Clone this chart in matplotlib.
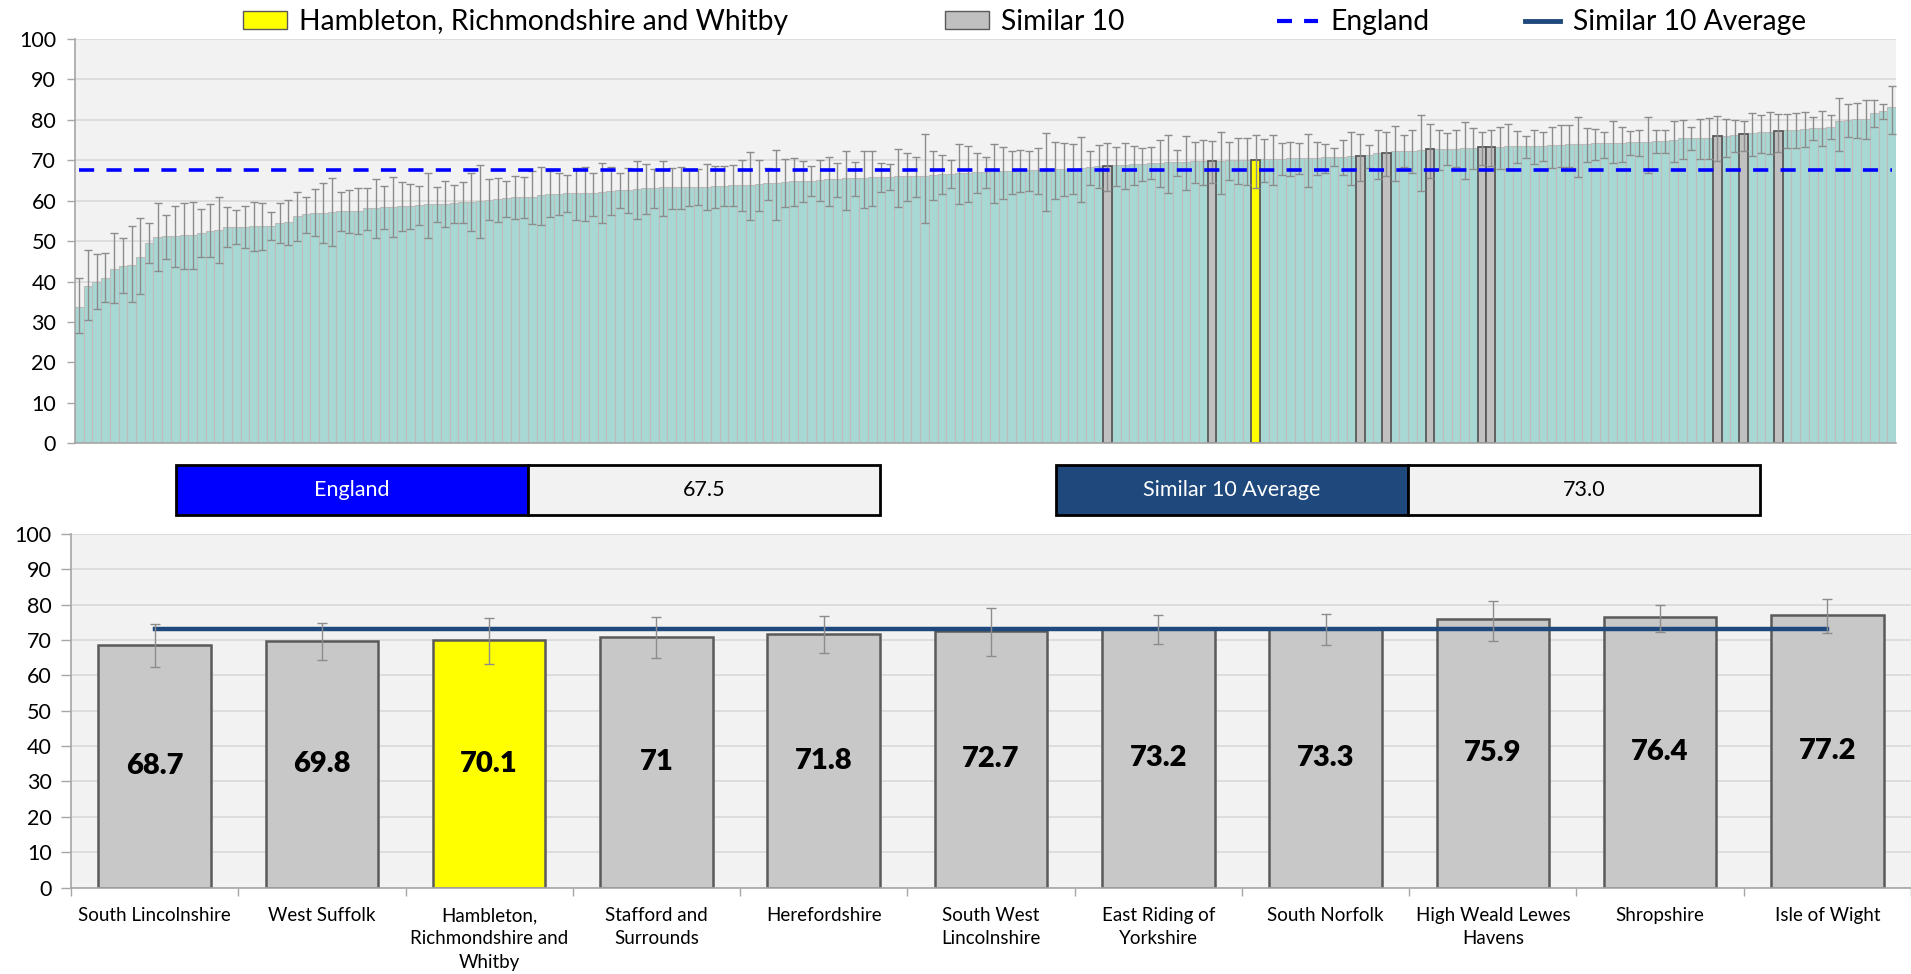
# coding=utf-8
import matplotlib
matplotlib.use("Agg")
import matplotlib.pyplot as plt
from matplotlib.patches import Patch, Rectangle
from matplotlib.lines import Line2D

plt.rcParams["font.family"] = ["Lato", "DejaVu Sans"]

# All CCGs in England, sorted ascending (value, lower CI, upper CI)
ccg_values = [
    33.8, 39.0, 39.9, 40.8, 43.2, 43.8, 44.2, 46.1, 49.6, 51.1,
    51.2, 51.2, 51.4, 51.4, 51.9, 52.6, 52.7, 53.5, 53.6, 53.6,
    53.7, 53.8, 53.8, 54.6, 54.7, 56.1, 56.6, 57.0, 57.0, 57.3,
    57.4, 57.4, 57.5, 58.1, 58.3, 58.4, 58.5, 58.7, 58.8, 58.9,
    59.1, 59.2, 59.3, 59.4, 59.7, 59.8, 60.0, 60.3, 60.5, 60.6,
    60.8, 60.9, 61.0, 61.5, 61.7, 61.7, 61.8, 61.8, 61.9, 62.0,
    62.1, 62.5, 62.6, 62.7, 62.9, 63.1, 63.2, 63.3, 63.3, 63.4,
    63.4, 63.4, 63.5, 63.6, 63.7, 63.8, 63.9, 64.0, 64.1, 64.3,
    64.5, 64.6, 64.8, 65.0, 65.0, 65.1, 65.3, 65.4, 65.5, 65.5,
    65.6, 65.8, 65.8, 65.9, 66.0, 66.0, 66.0, 66.1, 66.4, 66.5,
    66.6, 66.9, 66.9, 67.1, 67.2, 67.4, 67.4, 67.4, 67.5, 67.6,
    67.7, 67.8, 67.8, 67.9, 67.9, 68.1, 68.3, 68.5, 68.7, 68.8,
    68.9, 69.0, 69.2, 69.3, 69.4, 69.5, 69.6, 69.7, 69.8, 69.8,
    69.8, 69.9, 70.0, 70.1, 70.1, 70.1, 70.2, 70.3, 70.4, 70.5,
    70.5, 70.5, 70.6, 70.7, 70.8, 70.9, 71.0, 71.0, 71.2, 71.7,
    71.8, 72.2, 72.3, 72.4, 72.6, 72.7, 72.8, 72.9, 72.9, 73.0,
    73.1, 73.2, 73.3, 73.4, 73.5, 73.5, 73.6, 73.6, 73.6, 73.7,
    73.9, 74.0, 74.0, 74.1, 74.2, 74.2, 74.3, 74.4, 74.5, 74.5,
    74.6, 74.7, 74.8, 75.0, 75.4, 75.5, 75.5, 75.6, 75.9, 76.0,
    76.2, 76.4, 76.7, 76.9, 77.1, 77.2, 77.4, 77.5, 77.8, 77.9,
    78.0, 78.2, 79.6, 80.0, 80.1, 80.3, 81.7, 82.1, 83.1,
]
ccg_lower = [
    27.4, 30.6, 33.1, 34.9, 34.7, 37.1, 34.9, 36.9, 44.7, 42.6,
    45.7, 43.6, 43.2, 43.1, 46.1, 46.1, 44.6, 48.5, 49.4, 48.4,
    47.5, 47.8, 50.2, 49.6, 49.0, 50.0, 52.1, 51.3, 49.5, 48.8,
    52.6, 52.1, 51.8, 52.8, 50.7, 52.9, 51.0, 52.5, 53.1, 54.1,
    50.8, 54.7, 53.6, 54.5, 54.5, 52.6, 50.7, 55.2, 54.8, 56.0,
    55.4, 55.7, 54.2, 54.1, 55.9, 56.4, 57.3, 55.3, 55.1, 56.3,
    54.5, 56.4, 58.1, 56.9, 55.5, 56.8, 58.2, 56.2, 57.9, 57.9,
    58.7, 59.0, 57.7, 58.2, 58.7, 58.6, 57.4, 55.3, 57.5, 60.3,
    55.3, 58.4, 58.6, 59.8, 61.2, 59.9, 58.8, 61.0, 57.6, 61.2,
    58.3, 58.7, 62.2, 62.6, 58.4, 59.9, 61.0, 54.4, 60.2, 61.6,
    63.1, 59.1, 59.8, 61.9, 63.2, 59.4, 60.5, 61.7, 62.1, 62.5,
    61.7, 57.5, 60.4, 61.2, 61.6, 59.8, 64.0, 63.2, 62.3, 63.7,
    62.8, 64.0, 65.0, 65.3, 63.4, 61.8, 66.2, 62.6, 64.5, 64.0,
    64.4, 61.7, 65.1, 64.2, 64.0, 63.2, 64.7, 63.8, 66.3, 66.0,
    66.5, 63.5, 66.3, 66.8, 68.5, 66.4, 64.0, 65.0, 68.2, 65.4,
    66.2, 65.0, 68.3, 66.8, 62.3, 65.5, 67.6, 68.8, 68.4, 65.3,
    67.8, 68.8, 68.7, 67.9, 67.9, 69.3, 70.5, 69.0, 69.9, 68.1,
    68.3, 68.3, 65.9, 69.5, 70.1, 70.5, 69.4, 69.6, 71.2, 71.0,
    66.9, 71.8, 71.9, 69.6, 70.2, 72.6, 70.2, 70.2, 69.8, 70.9,
    72.1, 72.4, 71.1, 71.7, 71.6, 72.0, 73.0, 73.1, 73.4, 75.0,
    73.5, 75.2, 72.4, 75.7, 75.5, 75.2, 78.2, 80.1, 76.4,
]
ccg_upper = [
    41.0, 47.9, 46.9, 47.1, 52.0, 50.7, 53.8, 55.8, 54.6, 59.4,
    56.4, 58.8, 59.5, 59.7, 57.9, 59.2, 60.8, 58.4, 57.6, 58.6,
    59.8, 59.5, 57.1, 59.5, 60.2, 62.2, 60.9, 62.8, 64.3, 65.7,
    62.1, 62.7, 63.1, 63.1, 65.4, 63.6, 65.9, 64.7, 64.1, 63.6,
    66.9, 63.4, 64.9, 64.0, 64.6, 66.8, 68.9, 65.3, 65.7, 65.0,
    66.0, 65.9, 67.3, 68.4, 67.4, 66.9, 66.3, 68.2, 68.4, 66.9,
    69.3, 68.3, 66.9, 68.2, 69.8, 69.0, 67.9, 69.8, 68.1, 68.3,
    67.8, 67.9, 69.1, 68.6, 68.6, 68.8, 70.0, 72.0, 70.1, 68.2,
    72.6, 70.4, 70.6, 69.8, 68.7, 70.1, 70.9, 69.3, 72.2, 69.5,
    72.2, 72.4, 69.3, 69.0, 72.7, 71.7, 70.7, 76.4, 72.2, 71.2,
    70.0, 74.0, 73.6, 71.9, 70.8, 74.0, 73.2, 72.3, 72.6, 72.3,
    73.0, 76.7, 74.6, 74.2, 74.0, 75.7, 72.4, 73.7, 74.4, 73.4,
    74.4, 73.6, 73.0, 73.3, 74.9, 76.2, 72.6, 75.9, 74.5, 75.0,
    74.7, 77.1, 74.6, 75.4, 75.6, 76.3, 75.2, 76.2, 74.2, 74.5,
    74.2, 76.6, 74.6, 74.0, 73.1, 75.0, 77.1, 76.5, 73.8, 77.4,
    76.9, 78.6, 76.3, 77.4, 81.2, 79.0, 77.6, 76.7, 77.4, 79.5,
    77.9, 77.0, 77.4, 78.2, 78.9, 77.2, 76.1, 77.6, 76.9, 78.3,
    78.8, 78.7, 80.6, 78.0, 77.7, 77.1, 79.8, 78.3, 77.3, 77.6,
    80.8, 77.4, 77.4, 79.6, 79.9, 78.3, 80.3, 80.4, 81.0, 80.3,
    79.9, 79.8, 81.6, 81.3, 81.9, 81.5, 81.5, 81.7, 81.9, 80.8,
    82.3, 81.1, 85.4, 83.9, 84.2, 84.8, 84.8, 84.0, 88.4,
]

# position of the local CCG and its 10 similar CCGs in the sorted list
local_index = 135
similar_index = [118, 130, 147, 150, 155, 161, 162, 188, 191, 195]

# Similar 10 comparison (local CCG included)
local_name = "Hambleton, Richmondshire and Whitby"
cmp_labels = [
    "South Lincolnshire", "West Suffolk", "Hambleton,\nRichmondshire and\nWhitby",
    "Stafford and\nSurrounds", "Herefordshire", "South West\nLincolnshire",
    "East Riding of\nYorkshire", "South Norfolk", "High Weald Lewes\nHavens",
    "Shropshire", "Isle of Wight",
]
cmp_values = [68.7, 69.8, 70.1, 71.0, 71.8, 72.7, 73.2, 73.3, 75.9, 76.4, 77.2]
cmp_lower = [62.3, 64.4, 63.2, 65.0, 66.2, 65.5, 68.8, 68.7, 69.8, 72.4, 72.0]
cmp_upper = [74.4, 74.7, 76.3, 76.5, 76.9, 79.0, 77.0, 77.4, 81.0, 79.8, 81.5]
cmp_local = 2

england_value = 67.5
similar_average = 73.0

# colours
TEAL = "#a8d8d3"
GREY = "#c0c0c0"
YELLOW = "#ffff00"
BLUE = "#0000ff"
NAVY = "#1f497d"
PANEL = "#f2f2f2"
GRID = "#d9d9d9"
AXIS = "#a6a6a6"

W, H = 1911, 974
fig = plt.figure(figsize=(W / 100, H / 100), dpi=100)


def fx(px):
    return px / W


def fy(py):
    return 1 - py / H


def style_axis(ax, ticklen, pad):
    """ Excel-like look: grey panel, light grid, grey axis lines """
    ax.set_facecolor(PANEL)
    ax.set_ylim(0, 100)
    ax.set_yticks(range(0, 101, 10))
    ax.yaxis.grid(True, color=GRID, lw=1.2)
    ax.set_axisbelow(True)
    for s in ["top", "right"]:
        ax.spines[s].set_visible(False)
    for s in ["left", "bottom"]:
        ax.spines[s].set_color(AXIS)
        ax.spines[s].set_linewidth(1.2)
    ax.tick_params(axis="y", length=ticklen, width=1, color=AXIS,
                   labelsize=15.5, pad=pad, labelcolor="black")


# ---------------- top chart: all CCGs ----------------
ax1 = fig.add_axes([fx(75), fy(443.3), fx(1896 - 75), (443.3 - 39) / H])
style_axis(ax1, 5.5, 8)
n = len(ccg_values)
xs = list(range(n))
ax1.bar(xs, ccg_values, width=1.0, color=TEAL, edgecolor="#bcbcbc",
        linewidth=0.8, zorder=2)

hl_x = similar_index + [local_index]
hl_v = [ccg_values[i] for i in hl_x]
hl_c = [GREY] * len(similar_index) + [YELLOW]
ax1.bar(hl_x, hl_v, width=1.0, color=hl_c, edgecolor="#595959",
        linewidth=1.3, zorder=2.5)

yerr = [[v - lo for v, lo in zip(ccg_values, ccg_lower)],
        [hi - v for v, hi in zip(ccg_values, ccg_upper)]]
ax1.errorbar(xs, ccg_values, yerr=yerr, fmt="none", ecolor="#8c8c8c",
             elinewidth=1, capsize=2.6, capthick=1, zorder=3)

ax1.plot([0, n - 1], [england_value, england_value], color=BLUE, lw=2.6,
         ls=(0, (4.2, 3.4)), zorder=4)
ax1.set_xlim(-0.5, n - 0.5)
ax1.set_xticks([])

# legend, one entry at a time so each sits where Excel put it
legend_items = [
    (Patch(facecolor=YELLOW, edgecolor="#595959"), local_name, 243, 1.55),
    (Patch(facecolor=GREY, edgecolor="#595959"), "Similar 10", 945, 1.55),
    (Line2D([], [], color=BLUE, lw=3, ls=(0, (3.6, 2.9))), "England", 1277, 1.45),
    (Line2D([], [], color=NAVY, lw=3.5), "Similar 10 Average", 1525, 1.25),
]
for handle, label, px, hl in legend_items:
    fig.legend([handle], [label], loc="center left",
               bbox_to_anchor=(fx(px), fy(22)), frameon=False, fontsize=20.3,
               handlelength=hl, handleheight=0.6, handletextpad=0.45,
               borderpad=0, borderaxespad=0)


# ---------------- value boxes ----------------
def value_box(x0, label, value, fill):
    axb = fig.add_axes([fx(x0), fy(515), fx(704), 50 / H])
    axb.set_xlim(0, 2)
    axb.set_ylim(0, 1)
    axb.axis("off")
    axb.add_patch(Rectangle((0, 0), 1, 1, facecolor=fill, edgecolor="black",
                            lw=2, clip_on=False))
    axb.add_patch(Rectangle((1, 0), 1, 1, facecolor=PANEL, edgecolor="black",
                            lw=2, clip_on=False))
    axb.text(0.5, 0.5, label, color="white", ha="center", va="center", fontsize=15.5)
    axb.text(1.5, 0.5, "%.1f" % value, color="black", ha="center", va="center",
             fontsize=15.5)


value_box(176, "England", england_value, BLUE)
value_box(1056, "Similar 10 Average", similar_average, NAVY)

# ---------------- bottom chart: similar 10 ----------------
ax2 = fig.add_axes([fx(71), fy(887.5), 1 - fx(71), (887.5 - 534) / H])
style_axis(ax2, 7, 7)
m = len(cmp_values)
cx = list(range(m))
colors = [YELLOW if i == cmp_local else "#c8c8c8" for i in cx]
ax2.bar(cx, cmp_values, width=0.673, color=colors, edgecolor="#5a5a5a",
        linewidth=1.8, zorder=2)
ax2.plot([0, m - 1], [similar_average, similar_average], color=NAVY, lw=3.2,
         zorder=3)
cerr = [[v - lo for v, lo in zip(cmp_values, cmp_lower)],
        [hi - v for v, hi in zip(cmp_values, cmp_upper)]]
ax2.errorbar(cx, cmp_values, yerr=cerr, fmt="none", ecolor="#8c8c8c",
             elinewidth=1, capsize=3.5, capthick=1, zorder=4)
for i, v in enumerate(cmp_values):
    ax2.text(i, v / 2, "%g" % v, ha="center", va="center", fontsize=21,
             fontweight="heavy", zorder=5)

ax2.set_xlim(-0.5, m - 0.5)
ax2.set_xticks(cx)
ax2.set_xticklabels(cmp_labels, fontsize=13.5, linespacing=1.45, va="top")
ax2.set_xticks([i - 0.5 for i in range(m + 1)], minor=True)
ax2.tick_params(axis="x", which="major", length=0, pad=14)
ax2.tick_params(axis="x", which="minor", length=6, width=1, color=AXIS)

fig.savefig("out.png", dpi=100)
